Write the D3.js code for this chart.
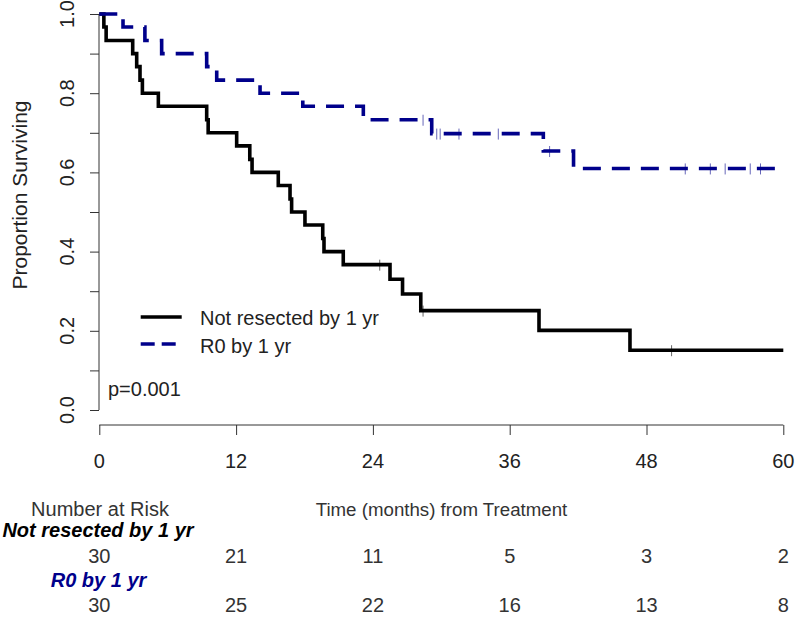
<!DOCTYPE html>
<html>
<head>
<meta charset="utf-8">
<script src="https://cdn.jsdelivr.net/npm/d3@7"></script>
<style>
  html, body { margin: 0; padding: 0; background: #fff; }
  svg { display: block; font-family: "Liberation Sans", Arial, sans-serif; }
</style>
</head>
<body>
<svg id="chart" width="800" height="619"></svg>
<script>
// ---- Data ----
const groupNames = ["Not resected by 1 yr", "R0 by 1 yr"];
const groupColors = ["#000000", "#00008B"];

// Kaplan-Meier step times (months) and survival after each step
const notResTimes = [0, 0.4, 0.6, 2.93, 3.28, 3.57, 3.78, 5.18, 9.42, 9.55, 12.05, 13.2, 13.4, 15.7, 16.73, 16.87, 18.04, 19.6, 19.71, 21.4, 25.5, 26.6, 28.2, 38.57, 46.55];
const notResSurv  = [1, 0.967, 0.933, 0.9, 0.867, 0.833, 0.8, 0.767, 0.733, 0.7, 0.667, 0.633, 0.6, 0.567, 0.533, 0.5, 0.467, 0.433, 0.4, 0.367, 0.33, 0.293, 0.251, 0.201, 0.151];
const notResCensor = [24.6, 28.4, 50.2];

const r0Times = [0, 2.08, 4.0, 5.47, 9.42, 10.3, 14.1, 17.85, 23.16, 29.16, 38.95, 41.6];
const r0Surv  = [1, 0.967, 0.933, 0.9, 0.867, 0.833, 0.8, 0.767, 0.733, 0.698, 0.654, 0.61];
const r0Censor = [28.4, 29.6, 29.9, 31.55, 35.0, 39.5, 51.4, 53.6, 54.9, 57.1, 58.0];

const endTime = 60;
const xTicks = [0, 12, 24, 36, 48, 60];
const yTicks = [0, 0.1, 0.2, 0.3, 0.4, 0.5, 0.6, 0.7, 0.8, 0.9, 1.0];
const yLabelTicks = [0, 0.2, 0.4, 0.6, 0.8, 1.0];
const atRiskNotRes = [30, 21, 11, 5, 3, 2];
const atRiskR0 = [30, 25, 22, 16, 13, 8];
const pValueText = "p=0.001";

// ---- Scales ----
const x = d3.scaleLinear().domain([0, 60]).range([99.3, 783.3]);
const y = d3.scaleLinear().domain([0, 1]).range([410, 14]);

const svg = d3.select("#chart");
const textColor = "#222";

// ---- Axes ----
const xAxis = d3.axisBottom(x).tickValues(xTicks).tickSize(10).tickFormat("");
const gx = svg.append("g").attr("transform", "translate(0,425)").call(xAxis);
gx.select(".domain").attr("d", `M${x(0)},0H${x(60)}`).attr("stroke", "#333");
gx.selectAll(".tick line").attr("stroke", "#333");
svg.append("g").selectAll("text").data(xTicks).join("text")
  .attr("x", d => x(d)).attr("y", 468)
  .attr("text-anchor", "middle").attr("font-size", 20).attr("fill", textColor)
  .text(d => d);

const yAxis = d3.axisLeft(y).tickValues(yTicks).tickSize(9).tickFormat("");
const gy = svg.append("g").attr("transform", "translate(99,0)").call(yAxis);
gy.select(".domain").attr("d", `M0,${y(0)}V${y(1)}`).attr("stroke", "#333");
gy.selectAll(".tick line").attr("stroke", "#333");
svg.append("g").selectAll("text").data(yLabelTicks).join("text")
  .attr("transform", d => `translate(74,${y(d)}) rotate(-90)`)
  .attr("text-anchor", "middle").attr("font-size", 20).attr("fill", textColor)
  .text(d => d.toFixed(1));

svg.append("text")
  .attr("transform", "translate(27,195) rotate(-90)")
  .attr("text-anchor", "middle").attr("font-size", 21).attr("fill", textColor)
  .text("Proportion Surviving");

// ---- Curves ----
function stepSeries(times, surv) {
  const pts = times.map((t, i) => [t, surv[i]]);
  pts.push([endTime, surv[surv.length - 1]]);
  return pts;
}
function survAt(times, surv, t) {
  let v = surv[0];
  for (let i = 0; i < times.length; i++) if (times[i] <= t) v = surv[i];
  return v;
}
const line = d3.line().x(d => x(d[0])).y(d => y(d[1])).curve(d3.curveStepAfter);

const groups = [
  { times: notResTimes, surv: notResSurv, censor: notResCensor, color: groupColors[0], dash: null },
  { times: r0Times, surv: r0Surv, censor: r0Censor, color: groupColors[1], dash: "18,11" }
];

groups.forEach(g => {
  svg.append("path")
    .datum(stepSeries(g.times, g.surv))
    .attr("d", line)
    .attr("fill", "none")
    .attr("stroke", g.color)
    .attr("stroke-width", 3.6)
    .attr("stroke-linejoin", "miter")
    .attr("stroke-dasharray", g.dash);
  svg.append("g").selectAll("line").data(g.censor).join("line")
    .attr("x1", d => x(d)).attr("x2", d => x(d))
    .attr("y1", d => y(survAt(g.times, g.surv, d)) - 5)
    .attr("y2", d => y(survAt(g.times, g.surv, d)) + 6)
    .attr("stroke", g.color).attr("stroke-opacity", 0.6).attr("stroke-width", 1);
});

// ---- Legend ----
const legendY = [317, 344];
const legendTextY = [325, 353];
groupNames.forEach((name, i) => {
  svg.append("line")
    .attr("x1", 140.7).attr("x2", 181.7)
    .attr("y1", legendY[i]).attr("y2", legendY[i])
    .attr("stroke", groupColors[i]).attr("stroke-width", 3.6)
    .attr("stroke-dasharray", i === 1 ? "14,7" : null);
  svg.append("text")
    .attr("x", 200).attr("y", legendTextY[i])
    .attr("font-size", 20).attr("fill", textColor)
    .text(name);
});

svg.append("text")
  .attr("x", 108).attr("y", 396)
  .attr("font-size", 20).attr("fill", textColor)
  .text(pValueText);

// ---- Number at risk table ----
svg.append("text")
  .attr("x", 100).attr("y", 516).attr("text-anchor", "middle")
  .attr("font-size", 20).attr("fill", "#333")
  .text("Number at Risk");
svg.append("text")
  .attr("x", 441.5).attr("y", 516).attr("text-anchor", "middle")
  .attr("font-size", 18.7).attr("fill", "#333")
  .text("Time (months) from Treatment");

svg.append("text")
  .attr("x", 98).attr("y", 537).attr("text-anchor", "middle")
  .attr("font-size", 20).attr("font-weight", "bold").attr("font-style", "italic")
  .attr("fill", groupColors[0])
  .text(groupNames[0]);
svg.append("g").selectAll("text").data(atRiskNotRes).join("text")
  .attr("x", (d, i) => x(xTicks[i])).attr("y", 563)
  .attr("text-anchor", "middle").attr("font-size", 20).attr("fill", "#333")
  .text(d => d);

svg.append("text")
  .attr("x", 98.5).attr("y", 587).attr("text-anchor", "middle")
  .attr("font-size", 20).attr("font-weight", "bold").attr("font-style", "italic")
  .attr("fill", groupColors[1])
  .text(groupNames[1]);
svg.append("g").selectAll("text").data(atRiskR0).join("text")
  .attr("x", (d, i) => x(xTicks[i])).attr("y", 611.5)
  .attr("text-anchor", "middle").attr("font-size", 20).attr("fill", "#333")
  .text(d => d);
</script>
</body>
</html>
